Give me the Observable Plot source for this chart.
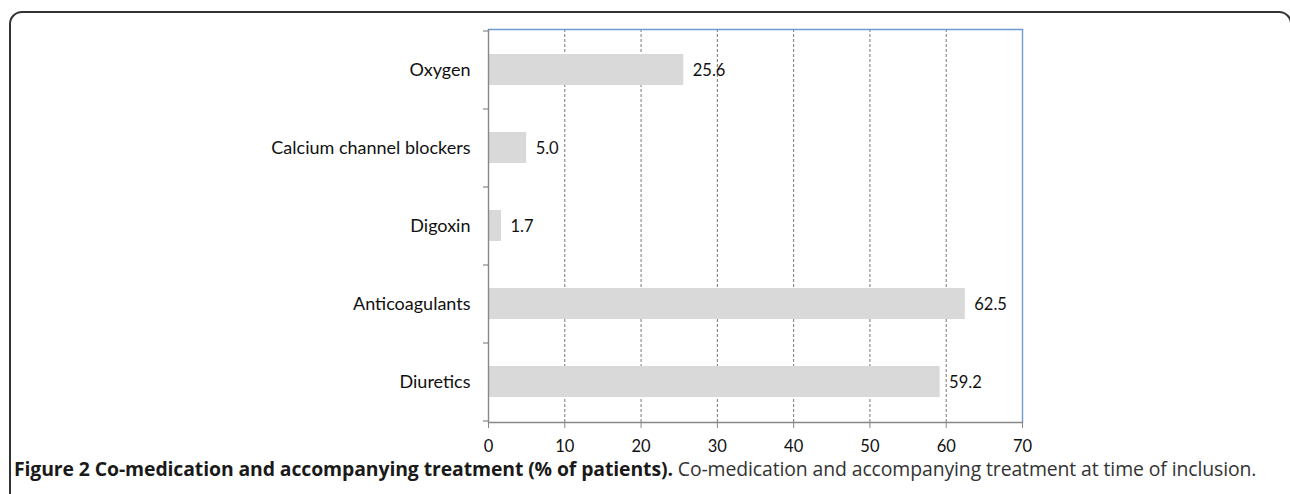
<!DOCTYPE html>
<html>
<head>
<meta charset="utf-8">
<script src="https://cdn.jsdelivr.net/npm/d3@7"></script>
<script src="https://cdn.jsdelivr.net/npm/@observablehq/plot@0.6"></script>
<style>
  html, body { margin: 0; padding: 0; background: #fff; }
  #wrap { position: relative; width: 1290px; height: 494px; overflow: hidden; background: #fff; }
  #frame { position: absolute; left: 9px; top: 11px; width: 1283px; height: 500px;
           border: 2px solid #333; border-radius: 13px; box-sizing: border-box; }
  #chart { position: absolute; left: 0; top: 0; }
  #caption { position: absolute; left: 14px; top: 459px; font-family: "Open Sans", sans-serif;
             font-size: 19.4px; line-height: 19px; letter-spacing: -0.1px; color: #333; white-space: nowrap; }
  #caption b { color: #1a1a1a; }
</style>
</head>
<body>
<div id="wrap">
  <div id="frame"></div>
  <div id="chart"></div>
  <div id="caption"><b>Figure 2 Co-medication and accompanying treatment (% of patients).</b> Co-medication and accompanying treatment at time of inclusion.</div>
</div>
<script>
const categories = ["Oxygen", "Calcium channel blockers", "Digoxin", "Anticoagulants", "Diuretics"];
const values = [25.6, 5.0, 1.7, 62.5, 59.2];
const xTicks = [0, 10, 20, 30, 40, 50, 60, 70];
const gridTicks = [10, 20, 30, 40, 50, 60];

const data = categories.map((c, i) => ({ category: c, value: values[i] }));
const font = "Lato, sans-serif";

// category boundary ticks on the y axis (Excel style), drawn from the band scale
function boundaryTicks(index, scales, values, dims) {
  const g = d3.create("svg:g");
  const y = scales.y, x = scales.x;
  const bw = y.bandwidth();
  const ys = categories.map(c => y(c)).concat([y(categories[categories.length - 1]) + bw]);
  const x0 = x(0);
  for (const yy of ys) {
    g.append("line").attr("x1", x0 - 5).attr("x2", x0).attr("y1", yy).attr("y2", yy)
      .attr("stroke", "#888").attr("stroke-width", 1.2);
  }
  return g.node();
}

const chart = Plot.plot({
  width: 1290,
  height: 458,
  marginLeft: 488,
  marginRight: 268,
  marginTop: 29,
  marginBottom: 36,
  style: { fontFamily: font, fontSize: "16px", color: "#111", background: "transparent" },
  x: { domain: [0, 70], ticks: xTicks, label: null },
  y: { domain: categories, padding: 0, label: null },
  marks: [
    Plot.ruleX(gridTicks, { stroke: "#777", strokeDasharray: "3,2", strokeWidth: 1 }),
    Plot.barX(data, { x: "value", y: "category", fill: "#d9d9d9", insetTop: 23, insetBottom: 24 }),
    Plot.ruleX([70], { stroke: "#6f9bd1", strokeWidth: 1.4 }),
    Plot.frame({ anchor: "top", stroke: "#6f9bd1", strokeWidth: 1.4 }),
    Plot.ruleX([0], { stroke: "#888", strokeWidth: 1.4 }),
    Plot.axisX({ ticks: xTicks, tickSize: 6, tickPadding: 12, stroke: "#888", fontSize: 16.5, fill: "#111", tickFormat: d => d }),
    Plot.frame({ anchor: "bottom", stroke: "#888", strokeWidth: 1.4 }),
    Plot.axisY({ tickSize: 0, tickPadding: 18, fontSize: 18, fill: "#111" }),
    boundaryTicks,
    Plot.text(data, { x: "value", y: "category", text: d => d.value.toFixed(1), dx: 9, textAnchor: "start", fontSize: 16.5, fill: "#111" })
  ]
});
document.getElementById("chart").appendChild(chart);
</script>
</body>
</html>
